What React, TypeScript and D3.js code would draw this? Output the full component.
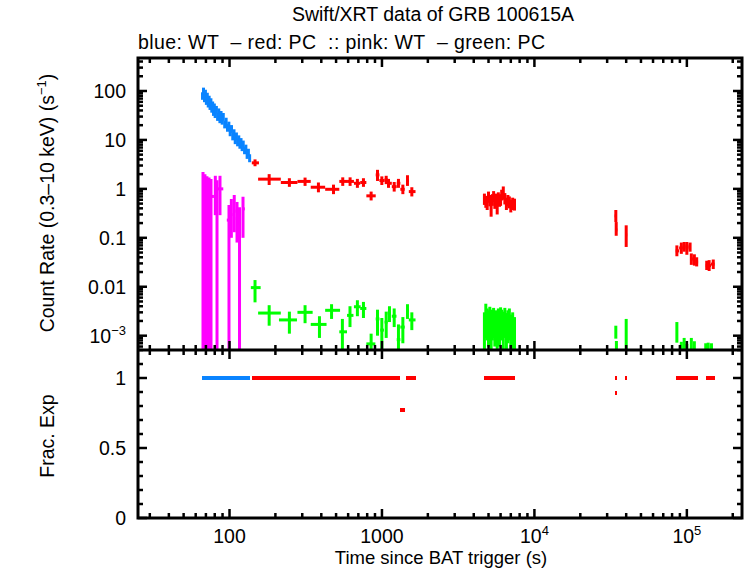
import * as d3 from "d3";

// each point: [tLo, t, tHi, rateLo, rate, rateHi]
const wtBlue = [
  [65.6, 66.5, 67.2, 66, 80, 94],
  [66.9, 67.5, 68.1, 83, 100, 117],
  [67.9, 68.5, 69.1, 59, 72, 85],
  [68.9, 69.5, 70.1, 74, 90, 106],
  [69.9, 70.5, 71.1, 52, 64, 76],
  [70.9, 71.5, 72.1, 64, 78, 92],
  [71.9, 72.5, 73.1, 46, 56, 66],
  [72.9, 73.5, 74.1, 56, 68, 80],
  [73.9, 74.5, 75.1, 41, 50, 59],
  [74.9, 75.5, 76.1, 49, 60, 71],
  [75.9, 76.5, 77.1, 36, 44, 52],
  [76.9, 77.5, 78.1, 43, 52, 61],
  [77.9, 78.5, 79.1, 31, 38, 45],
  [78.9, 79.5, 80.1, 38.5, 47, 55.5],
  [79.9, 80.5, 81.2, 28, 34, 40],
  [81.2, 82, 82.8, 34.5, 42, 49.5],
  [82.8, 83.5, 84.3, 24.5, 30, 35.5],
  [84.3, 85, 85.8, 30, 37, 44],
  [85.8, 86.5, 87.3, 22, 27, 32],
  [87.3, 88, 88.8, 27, 33, 39],
  [88.8, 89.5, 90.3, 20.5, 25, 29.5],
  [90.3, 91, 92, 24.5, 30, 35.5],
  [92, 93, 94, 17.2, 21, 24.8],
  [94, 95, 96, 19.6, 24, 28.4],
  [96, 97, 98, 14.7, 18, 21.3],
  [98, 99, 100, 16.4, 20, 23.6],
  [100, 101, 102, 11.9, 14.5, 17.1],
  [102, 103, 104, 13.9, 17, 20.1],
  [104, 105, 106, 9.8, 12, 14.2],
  [106, 107, 108, 11.5, 14, 16.5],
  [108, 109, 110, 8.2, 10, 11.8],
  [110, 111, 112, 9.8, 12, 14.2],
  [112, 113, 114, 7.4, 9, 10.6],
  [114, 115, 116, 8.6, 10.5, 12.4],
  [116, 117, 118, 6.6, 8, 9.4],
  [118, 119, 120, 7.5, 9.2, 10.9],
  [120, 121, 122, 5.9, 7.2, 8.5],
  [122, 123, 124.2, 6.7, 8.2, 9.7],
  [124.2, 125.5, 126.8, 5.1, 6.2, 7.3],
  [126.8, 128, 129.3, 5.6, 6.8, 8],
  [129.3, 130.5, 131.8, 4.1, 5, 5.9],
  [131.8, 133, 134.3, 4.6, 5.6, 6.6],
  [134.3, 135.5, 137, 3.5, 4.3, 5.1],
];

const pcRed = [
  [140, 147, 156, 2.9, 3.4, 4.0],
  [154, 182, 217, 1.2, 1.58, 2.0],
  [217, 247, 279, 1.1, 1.35, 1.65],
  [279, 313, 341, 1.15, 1.42, 1.7],
  [341, 383, 424, 0.85, 1.08, 1.35],
  [424, 481, 525, 0.78, 0.98, 1.22],
  [525, 553, 590, 1.15, 1.42, 1.72],
  [590, 618, 655, 1.15, 1.42, 1.72],
  [655, 690, 720, 1.05, 1.3, 1.6],
  [720, 756, 790, 1.1, 1.35, 1.65],
  [790, 849, 910, 0.58, 0.72, 0.88],
  [910, 935, 962, 1.45, 1.93, 2.45],
  [962, 998, 1040, 1.2, 1.48, 1.8],
  [1040, 1066, 1090, 1.25, 1.53, 1.85],
  [1090, 1104, 1160, 1.05, 1.3, 1.6],
  [1160, 1203, 1250, 0.88, 1.11, 1.38],
  [1250, 1283, 1320, 1.05, 1.3, 1.6],
  [1320, 1371, 1410, 0.78, 0.98, 1.22],
  [1445, 1470, 1500, 1.15, 1.48, 1.9],
  [1500, 1570, 1660, 0.7, 0.88, 1.08],
  [4650, 4700, 4750, 0.47, 0.62, 0.8],
  [4750, 4800, 4850, 0.41, 0.55, 0.72],
  [4850, 4900, 4950, 0.37, 0.5, 0.66],
  [4950, 5000, 5050, 0.52, 0.68, 0.88],
  [5050, 5100, 5150, 0.44, 0.58, 0.75],
  [5150, 5200, 5250, 0.27, 0.45, 0.6],
  [5250, 5300, 5350, 0.45, 0.6, 0.78],
  [5350, 5400, 5450, 0.54, 0.7, 0.9],
  [5450, 5500, 5550, 0.39, 0.52, 0.68],
  [5550, 5600, 5650, 0.47, 0.62, 0.8],
  [5650, 5700, 5750, 0.3, 0.48, 0.63],
  [5750, 5800, 5850, 0.5, 0.66, 0.85],
  [5850, 5900, 5950, 0.43, 0.57, 0.74],
  [5950, 6000, 6050, 0.45, 0.6, 0.78],
  [6050, 6100, 6175, 0.58, 0.75, 0.96],
  [6175, 6250, 6325, 0.6, 0.8, 1.12],
  [6325, 6400, 6475, 0.48, 0.63, 0.82],
  [6475, 6550, 6625, 0.37, 0.5, 0.66],
  [6625, 6700, 6775, 0.44, 0.58, 0.75],
  [6775, 6850, 6925, 0.4, 0.53, 0.7],
  [6925, 7000, 7100, 0.33, 0.45, 0.6],
  [7100, 7200, 7300, 0.37, 0.5, 0.66],
  [7300, 7400, 7500, 0.36, 0.48, 0.63],
  [33600, 34200, 34800, 0.21, 0.28, 0.37],
  [33800, 34400, 35000, 0.11, 0.145, 0.21],
  [39500, 40000, 40600, 0.065, 0.115, 0.18],
  [84500, 86000, 89000, 0.042, 0.054, 0.07],
  [89000, 92000, 94000, 0.047, 0.062, 0.08],
  [94000, 96000, 98000, 0.052, 0.068, 0.082],
  [98000, 100000, 102500, 0.045, 0.062, 0.082],
  [102500, 105000, 106000, 0.052, 0.068, 0.08],
  [106000, 107000, 109500, 0.028, 0.037, 0.048],
  [109500, 112000, 114000, 0.027, 0.035, 0.046],
  [114000, 116000, 118500, 0.026, 0.032, 0.04],
  [133000, 135000, 138000, 0.022, 0.027, 0.034],
  [138000, 140000, 144000, 0.021, 0.027, 0.035],
  [144000, 149000, 152000, 0.023, 0.029, 0.036],
];

const wtPink = [
  [66.3, 67, 67.7, 1e-6, 0.9, 2.2],
  [68.3, 69, 69.7, 1e-6, 0.8, 2.0],
  [70.4, 71.1, 71.8, 1e-6, 0.75, 1.8],
  [72.6, 73.4, 74.2, 1e-6, 0.7, 1.7],
  [73.6, 75.6, 79, 1e-6, 0.7, 1.6],
  [79.5, 80.7, 82, 0.29, 0.95, 1.85],
  [82, 82.8, 83.6, 1e-6, 0.5, 1.5],
  [84, 86.6, 91, 0.29, 1.0, 1.85],
  [96, 99.2, 102, 1e-6, 0.23, 0.47],
  [101, 102.8, 104.5, 0.1, 0.3, 0.62],
  [105.5, 107.4, 109.5, 0.13, 0.35, 0.75],
  [110, 112, 114, 0.08, 0.25, 0.54],
  [114.5, 116.3, 118, 1e-6, 0.2, 0.42],
  [121, 122.6, 126, 0.1, 0.39, 0.69],
];

const pcGreen = [
  [138, 147, 160, 0.0048, 0.0096, 0.0137],
  [154, 182, 217, 0.0016, 0.0029, 0.0042],
  [211, 247, 277, 0.0011, 0.0021, 0.0031],
  [279, 313, 351, 0.0018, 0.003, 0.0042],
  [341, 389, 433, 0.0009, 0.0017, 0.0025],
  [424, 467, 531, 0.0022, 0.0033, 0.0044],
  [525, 550, 590, 1e-6, 0.0012, 0.0022],
  [590, 617, 650, 0.0015, 0.0026, 0.004],
  [655, 690, 725, 0.0025, 0.0039, 0.0053],
  [720, 756, 790, 0.0023, 0.0036, 0.0049],
  [790, 849, 905, 1e-6, 0.00068, 0.0011],
  [910, 935, 962, 0.001, 0.0022, 0.0034],
  [975, 998, 1030, 1e-6, 0.0013, 0.0023],
  [1040, 1066, 1090, 0.0009, 0.0019, 0.0031],
  [1090, 1120, 1140, 0.0019, 0.0029, 0.004],
  [1160, 1203, 1245, 0.0015, 0.0025, 0.0036],
  [1250, 1283, 1320, 1e-6, 0.00083, 0.0017],
  [1320, 1371, 1410, 0.0007, 0.0015, 0.0024],
  [1445, 1470, 1500, 0.0022, 0.0033, 0.0044],
  [1500, 1570, 1660, 0.0013, 0.0021, 0.003],
  [4650, 4700, 4750, 1e-6, 0.0017, 0.003],
  [4750, 4800, 4850, 0.0009, 0.0024, 0.0045],
  [4850, 4900, 4950, 0.0008, 0.0022, 0.0036],
  [4950, 5000, 5050, 0.0006, 0.0019, 0.0033],
  [5050, 5100, 5150, 0.0011, 0.0025, 0.0039],
  [5150, 5200, 5250, 1e-6, 0.0016, 0.0029],
  [5250, 5300, 5350, 0.0008, 0.0021, 0.0034],
  [5350, 5400, 5450, 0.0009, 0.0023, 0.0037],
  [5450, 5500, 5550, 0.0006, 0.0018, 0.0031],
  [5550, 5600, 5650, 0.0007, 0.002, 0.0033],
  [5650, 5700, 5750, 0.0005, 0.0017, 0.003],
  [5750, 5800, 5850, 0.0008, 0.0022, 0.0036],
  [5850, 5900, 5950, 0.0006, 0.0019, 0.0032],
  [5950, 6000, 6050, 0.001, 0.0024, 0.0038],
  [6050, 6100, 6175, 0.0008, 0.0021, 0.0034],
  [6175, 6250, 6325, 1e-6, 0.0018, 0.0031],
  [6325, 6400, 6475, 0.0009, 0.0023, 0.0037],
  [6475, 6550, 6625, 1e-6, 0.0016, 0.0029],
  [6625, 6700, 6775, 0.0007, 0.002, 0.0033],
  [6775, 6850, 6925, 0.0008, 0.0022, 0.0036],
  [6925, 7000, 7100, 1e-6, 0.0015, 0.0027],
  [7100, 7200, 7300, 0.0005, 0.0017, 0.003],
  [7300, 7400, 7500, 1e-6, 0.0012, 0.0024],
  [33800, 34200, 34600, 0.00087, 0.00118, 0.0016],
  [34000, 34500, 35000, 1e-6, 0.00062, 0.00078],
  [39600, 40000, 40400, 1e-6, 0.0016, 0.0022],
  [85000, 86000, 87000, 0.00072, 0.0012, 0.0019],
  [91000, 92000, 93000, 1e-6, 0.0006, 0.00075],
  [95000, 96000, 97000, 1e-6, 0.00065, 0.0009],
  [99000, 100000, 101000, 1e-6, 0.00055, 0.00068],
  [106000, 107000, 108000, 1e-6, 0.00065, 0.0009],
  [111000, 112000, 113000, 1e-6, 0.0006, 0.00077],
  [132000, 133000, 135000, 1e-6, 0.00058, 0.0007],
  [136000, 138000, 140000, 1e-6, 0.0006, 0.00072],
  [142000, 145000, 148000, 1e-6, 0.00058, 0.0007],
];

// fractional exposure: 1 everywhere except these PC bins (keyed by bin time)
const pcFracLow: Record<number, number> = { 1371: 0.77, 34400: 0.89 };

const upperTicks = [100, 10, 1, 0.1, 0.01, 0.001];
const upperLabels = ["100", "10", "1", "0.1", "0.01", "10|\u22123"];
const lowerTicks = [0, 0.5, 1];
const lowerLabels = ["0", "0.5", "1"];
const xTicks = [100, 1000, 1e4, 1e5];
const xLabels = ["100", "1000", "10|4", "10|5"];

const W = 746;
const H = 568;
const L = 138;
const R = 742;
const T = 58;
const MID = 350;
const B = 518;
const FONT = "'Liberation Sans', Arial, Helvetica, sans-serif";
const FS = 19.5;

const BLUE = "#0a84ff";
const RED = "#ff0000";
const PINK = "#ff00ff";
const GREEN = "#00ff00";

const x = d3.scaleLog().domain([25.1, 2.3e5]).range([L, R]);
const yUp = d3.scaleLog().domain([5.1e-4, 472]).range([MID, T]);
const yLo = d3.scaleLinear().domain([0, 1.2]).range([B, MID]);

const Label = ({ text }: { text: string }) => {
  const [base, sup] = text.split("|");
  return (
    <>
      {base}
      {sup && (
        <tspan dy={-8} fontSize={13}>
          {sup}
        </tspan>
      )}
    </>
  );
};

function Errs({ data, color }: { data: number[][]; color: string }) {
  return (
    <g stroke={color} strokeWidth={3}>
      {data.map((d, i) => (
        <g key={i}>
          <line x1={x(d[1])} x2={x(d[1])} y1={yUp(d[3])} y2={yUp(d[5])} />
          <line x1={x(d[0])} x2={x(d[2])} y1={yUp(d[4])} y2={yUp(d[4])} />
        </g>
      ))}
    </g>
  );
}

export default function App() {
  const xMinor: { v: number; major: boolean }[] = [];
  for (let e = 1; e <= 5; e++) {
    for (let m = 1; m <= 9; m++) {
      const v = m * 10 ** e;
      if (v >= 25.1 && v <= 2.3e5) xMinor.push({ v, major: m === 1 });
    }
  }
  const yMinor: { v: number; major: boolean }[] = [];
  for (let e = -4; e <= 2; e++) {
    for (let m = 1; m <= 9; m++) {
      const v = m * 10 ** e;
      if (v >= 5.1e-4 && v <= 472) yMinor.push({ v, major: m === 1 });
    }
  }
  const lowTicks = d3.range(0, 13).map((i) => ({ v: i / 10, major: i % 5 === 0 }));

  const tickLines: JSX.Element[] = [];
  xMinor.forEach(({ v, major }, i) => {
    const len = major ? 9 : 5;
    const px = x(v);
    tickLines.push(<line key={"xt" + i} x1={px} x2={px} y1={T} y2={T + len} />);
    tickLines.push(<line key={"xm" + i} x1={px} x2={px} y1={MID - len} y2={MID + len} />);
    tickLines.push(<line key={"xb" + i} x1={px} x2={px} y1={B} y2={B - len} />);
  });
  yMinor.forEach(({ v, major }, i) => {
    const len = major ? 9 : 5;
    const py = yUp(v);
    tickLines.push(<line key={"yl" + i} x1={L} x2={L + len} y1={py} y2={py} />);
    tickLines.push(<line key={"yr" + i} x1={R} x2={R - len} y1={py} y2={py} />);
  });
  lowTicks.forEach(({ v, major }, i) => {
    const len = major ? 9 : 5;
    const py = yLo(v);
    tickLines.push(<line key={"ll" + i} x1={L} x2={L + len} y1={py} y2={py} />);
    tickLines.push(<line key={"lr" + i} x1={R} x2={R - len} y1={py} y2={py} />);
  });

  return (
    <svg
      width={W}
      height={H}
      style={{ position: "absolute", left: 0, top: 0, background: "#fff" }}
      fontFamily={FONT}
      fontSize={FS}
    >
      <defs>
        <clipPath id="up">
          <rect x={L} y={T} width={R - L} height={MID - T} />
        </clipPath>
        <clipPath id="lo">
          <rect x={L} y={MID} width={R - L} height={B - MID} />
        </clipPath>
      </defs>

      <text x={433} y={21} textAnchor="middle">
        Swift/XRT data of GRB 100615A
      </text>
      <text x={138} y={49} textLength={407} lengthAdjust="spacing" style={{ whiteSpace: "pre" }}>
        {"blue: WT  \u2013 red: PC  :: pink: WT  \u2013 green: PC"}
      </text>

      <g clipPath="url(#up)">
        <Errs data={wtBlue} color={BLUE} />
        <Errs data={pcRed} color={RED} />
        <Errs data={wtPink} color={PINK} />
        <Errs data={pcGreen} color={GREEN} />
      </g>

      <g clipPath="url(#lo)" strokeWidth={4} shapeRendering="crispEdges">
        {wtBlue.map((d, i) => (
          <line key={i} x1={x(d[0])} x2={x(d[2])} y1={yLo(1)} y2={yLo(1)} stroke={BLUE} />
        ))}
        {pcRed.map((d, i) => {
          const f = pcFracLow[d[1]] ?? 1;
          return <line key={i} x1={x(d[0])} x2={x(d[2])} y1={yLo(f)} y2={yLo(f)} stroke={RED} />;
        })}
      </g>

      <g stroke="#000" strokeWidth={2.5}>
        {tickLines}
      </g>
      <g fill="none" stroke="#000" strokeWidth={3}>
        <rect x={L} y={T} width={R - L} height={B - T} />
        <line x1={L} x2={R} y1={MID} y2={MID} />
      </g>

      {upperTicks.map((v, i) => (
        <text key={i} x={126} y={yUp(v) + 7} textAnchor="end">
          <Label text={upperLabels[i]} />
        </text>
      ))}
      {lowerTicks.map((v, i) => (
        <text key={i} x={126} y={yLo(v) + 7} textAnchor="end">
          {lowerLabels[i]}
        </text>
      ))}
      {xTicks.map((v, i) => (
        <text key={i} x={x(v)} y={542.5} textAnchor="middle">
          <Label text={xLabels[i]} />
        </text>
      ))}

      <text x={441} y={564} textAnchor="middle" fontSize={18.5}>
        Time since BAT trigger (s)
      </text>
      <text transform="translate(54,203) rotate(-90)" textAnchor="middle">
        Count Rate (0.3{"\u2013"}10 keV) (s
        <tspan dy={-8} fontSize={13}>
          {"\u22121"}
        </tspan>
        <tspan dy={8}>)</tspan>
      </text>
      <text transform="translate(54,436) rotate(-90)" textAnchor="middle">
        Frac. Exp
      </text>
    </svg>
  );
}
